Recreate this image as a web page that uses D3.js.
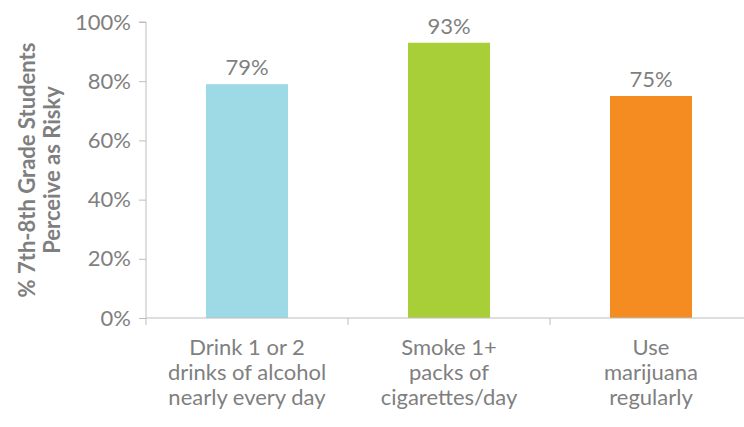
<!DOCTYPE html>
<html><head><meta charset="utf-8">
<script src="https://cdn.jsdelivr.net/npm/d3@7"></script>
<style>body{margin:0;background:#fff}svg{display:block}text{font-family:Lato,"Open Sans",sans-serif}</style>
</head><body><svg id="c" width="744" height="427"></svg>
<script>
const categories = [["Drink 1 or 2","drinks of alcohol","nearly every day"],["Smoke 1+","packs of","cigarettes/day"],["Use","marijuana","regularly"]];
const values = [79, 93, 75];
const colors = ["#9ed9e6", "#a9cf38", "#f48c22"];
const yTicks = [0, 20, 40, 60, 80, 100];
const yTitle = ["% 7th-8th Grade Students", "Perceive as Risky"];

const svg = d3.select("#c");
const gray = "#7f7f7f", axisColor = "#bdbdbd";
const fs = "22px";
const x = d3.scaleBand().domain(d3.range(values.length)).range([146, 752]).padding(0);
const y = d3.scaleLinear().domain([0, 100]).range([318, 22]);
const barW = x.bandwidth() * 0.406;

// y axis
const ya = svg.append("g").attr("transform", "translate(146,0)")
  .call(d3.axisLeft(y).tickValues(yTicks).tickFormat(d => d + "%").tickSize(7).tickPadding(8));
ya.select(".domain").attr("stroke", axisColor).attr("d", `M-7,${y(100)}H0V${y(0)}`);
ya.selectAll(".tick line").attr("stroke", axisColor);
ya.selectAll(".tick text").attr("fill", gray).style("font-size", fs).style("font-family", "Lato");

// bars
svg.selectAll("rect.bar").data(values).join("rect").attr("class", "bar")
  .attr("x", (d, i) => x(i) + x.bandwidth() / 2 - barW / 2)
  .attr("y", d => y(d)).attr("width", barW).attr("height", d => y(0) - y(d))
  .attr("fill", (d, i) => colors[i]);

// x axis
const xa = svg.append("g").attr("transform", `translate(0,${y(0)})`)
  .call(d3.axisBottom(x).tickSize(0).tickFormat(""));
xa.select(".domain").attr("stroke", axisColor).attr("d", `M146,0H744`);
xa.selectAll(".tick").remove();
svg.append("g").selectAll("line").data(d3.range(values.length)).join("line")
  .attr("x1", i => x(i)).attr("x2", i => x(i)).attr("y1", y(0)).attr("y2", y(0) + 7)
  .attr("stroke", axisColor);

// value labels
svg.selectAll("text.val").data(values).join("text").attr("class", "val")
  .attr("x", (d, i) => x(i) + x.bandwidth() / 2).attr("y", d => y(d) - 9)
  .attr("text-anchor", "middle").attr("fill", gray).style("font-size", fs)
  .text(d => d + "%");

// category labels
categories.forEach((lines, i) => {
  const t = svg.append("text").attr("text-anchor", "middle").attr("fill", gray).style("font-size", fs);
  lines.forEach((l, k) => t.append("tspan").attr("x", x(i) + x.bandwidth() / 2).attr("y", 355 + k * 25).text(l));
});

// y title
const yt = svg.append("text").attr("transform", "translate(0,170) rotate(-90)")
  .attr("text-anchor", "middle").attr("fill", gray).style("font-size", "22px").style("font-weight", "bold");
yTitle.forEach((l, k) => yt.append("tspan").attr("x", 0).attr("y", 35 + k * 25).text(l));
</script></body></html>
